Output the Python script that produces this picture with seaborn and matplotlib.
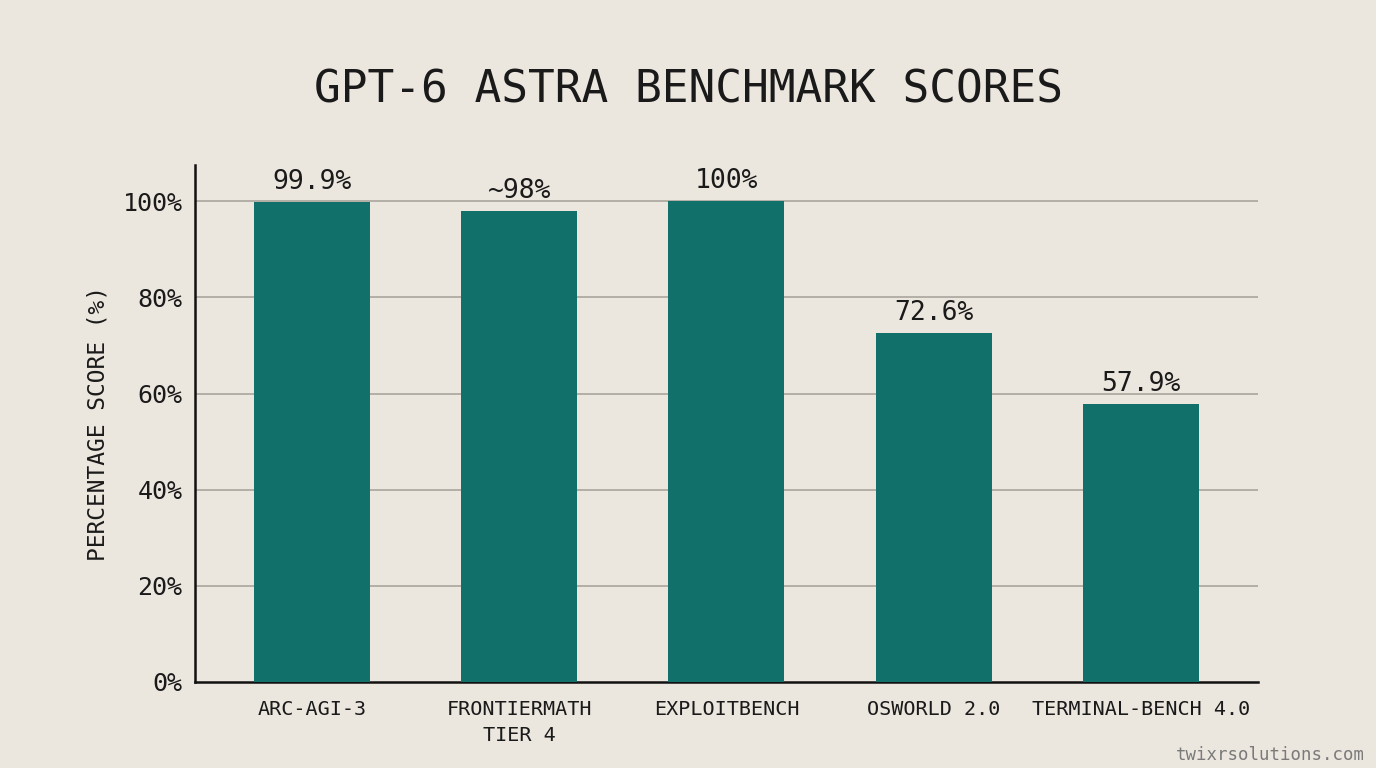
import matplotlib
matplotlib.use("Agg")
import matplotlib.pyplot as plt
import seaborn as sns
import pandas as pd

benchmarks = ["ARC-AGI-3", "FRONTIERMATH\nTIER 4", "EXPLOITBENCH", "OSWORLD 2.0", "TERMINAL-BENCH 4.0"]
scores = [99.9, 98.0, 100.0, 72.6, 57.9]
score_labels = ["99.9%", "~98%", "100%", "72.6%", "57.9%"]
y_ticks = [0, 20, 40, 60, 80, 100]
y_tick_labels = ["0%", "20%", "40%", "60%", "80%", "100%"]

bg = "#ebe6de"
teal = "#11706a"
mono = "DejaVu Sans Mono"

sns.set_style("white")
plt.rcParams["font.family"] = [mono, "DejaVu Sans"]

df = pd.DataFrame({"benchmark": benchmarks, "score": scores})

fig = plt.figure(figsize=(13.76, 7.68), dpi=100, facecolor=bg)
ax = fig.add_axes([0.1417, 0.112, 0.7725, 0.673])
ax.set_facecolor(bg)

sns.barplot(data=df, x="benchmark", y="score", color=teal, width=0.56,
            saturation=1, edgecolor="none", linewidth=0, ax=ax, zorder=3)

ax.bar_label(ax.containers[0], labels=score_labels, padding=5, fontsize=19,
             color="#1a1a1a")

ax.set_ylim(0, 107.5)
ax.set_xlim(-0.564, 4.564)
ax.set_yticks(y_ticks)
ax.set_yticklabels(y_tick_labels, fontsize=18, color="#1a1a1a")
ax.tick_params(axis="y", length=0, pad=9)
ax.tick_params(axis="x", length=0, pad=13, labelsize=14.5, labelcolor="#1a1a1a")
for lbl in ax.get_xticklabels():
    lbl.set_linespacing(1.45)

for t in y_ticks[1:]:
    ax.axhline(t, color="#a9a59d", lw=1.2, zorder=1)

for side in ["top", "right"]:
    ax.spines[side].set_visible(False)
for side in ["left", "bottom"]:
    ax.spines[side].set_color("#111111")
    ax.spines[side].set_linewidth(1.8)

ax.set_xlabel("")
ax.set_ylabel("PERCENTAGE SCORE (%)", fontsize=16.5, color="#1a1a1a", labelpad=9)

fig.text(0.5, 0.883, "GPT-6 ASTRA BENCHMARK SCORES", ha="center", va="center",
         fontsize=32, color="#1a1a1a")
fig.text(0.992, 0.005, "twixrsolutions.com", ha="right", va="bottom",
         fontsize=12.5, color="#7a7a7a")

fig.savefig("out.png", dpi=100, facecolor=bg)
